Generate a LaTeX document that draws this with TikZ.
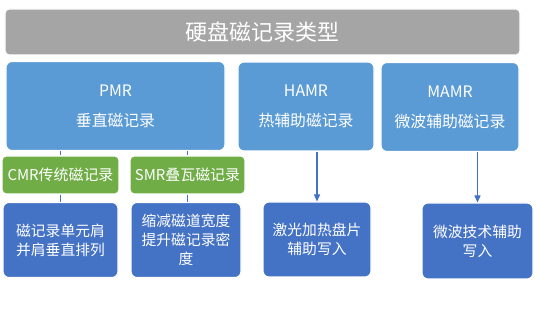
\documentclass[tikz,border=0pt]{standalone}
\usepackage{fontspec}
\setmainfont{Noto Sans CJK SC}
\usepackage{xcolor}
\definecolor{hdgray}{RGB}{165,165,165}
\definecolor{hdblue}{RGB}{91,155,213}
\definecolor{hdgreen}{RGB}{112,173,71}
\definecolor{hddark}{RGB}{68,114,196}
\usetikzlibrary{arrows.meta,positioning}
\tikzset{
  basebox/.style={draw=white, line width=0.6pt, rounded corners=3.5pt, text=white, align=center, inner sep=1pt},
  titlebox/.style={basebox, fill=hdgray, minimum width=10.3cm, minimum height=0.92cm, font=\fontsize{12.5}{15}\selectfont, rounded corners=2.5pt},
  typebox/.style={basebox, fill=hdblue, minimum height=1.78cm, font=\fontsize{9}{11}\selectfont},
  subbox/.style={basebox, fill=hdgreen, minimum height=0.76cm, font=\fontsize{8.5}{10}\selectfont, rounded corners=2.5pt},
  notebox/.style={basebox, fill=hddark, minimum height=1.5cm, font=\fontsize{8.4}{10.8}\selectfont},
  link/.style={draw=hddark, line width=0.6pt},
  arr/.style={link, -{Triangle[length=4pt,width=3.5pt]}}
}
\begin{document}
\begin{tikzpicture}
  \useasboundingbox (0,0) rectangle (11,6.22);

  % Title bar
  \node[titlebox] (title) at (5.25,5.58) {硬盘磁记录类型};

  % Recording types
  \node[typebox, minimum width=4.38cm] (pmr) at (2.31,4.10) {PMR\\[6pt]垂直磁记录};
  \node[typebox, minimum width=2.72cm] (hamr) at (6.12,4.09) {HAMR\\[6pt]热辅助磁记录};
  \node[typebox, minimum width=2.76cm] (mamr) at (9.00,4.08) {MAMR\\[6pt]微波辅助磁记录};

  % PMR sub types
  \node[subbox, minimum width=2.34cm] (cmr) at (1.21,2.72) {CMR传统磁记录};
  \node[subbox, minimum width=2.30cm] (smr) at (3.75,2.72) {SMR叠瓦磁记录};

  % Notes
  \node[notebox, minimum width=2.30cm] (cmrnote) at (1.21,1.42) {磁记录单元肩\\并肩垂直排列};
  \node[notebox, minimum width=2.20cm] (smrnote) at (3.72,1.42) {缩减磁道宽度\\提升磁记录密\\度};
  \node[notebox, minimum width=2.16cm] (hamrnote) at (6.34,1.43) {激光加热盘片\\辅助写入};
  \node[notebox, minimum width=2.22cm, minimum height=1.52cm] (mamrnote) at (9.55,1.40) {微波技术辅助\\写入};

  % Connectors
  \draw[link] (cmr.north |- pmr.south) -- (cmr.north);
  \draw[link] (smr.north |- pmr.south) -- (smr.north);
  \draw[link] (cmr.south) -- (cmrnote.north -| cmr.south);
  \draw[link] (smr.south) -- (smrnote.north -| smr.south);
  \draw[arr] (hamrnote.north |- hamr.south) -- (hamrnote.north);
  \draw[arr] (mamrnote.north |- mamr.south) -- (mamrnote.north);
\end{tikzpicture}
\end{document}
